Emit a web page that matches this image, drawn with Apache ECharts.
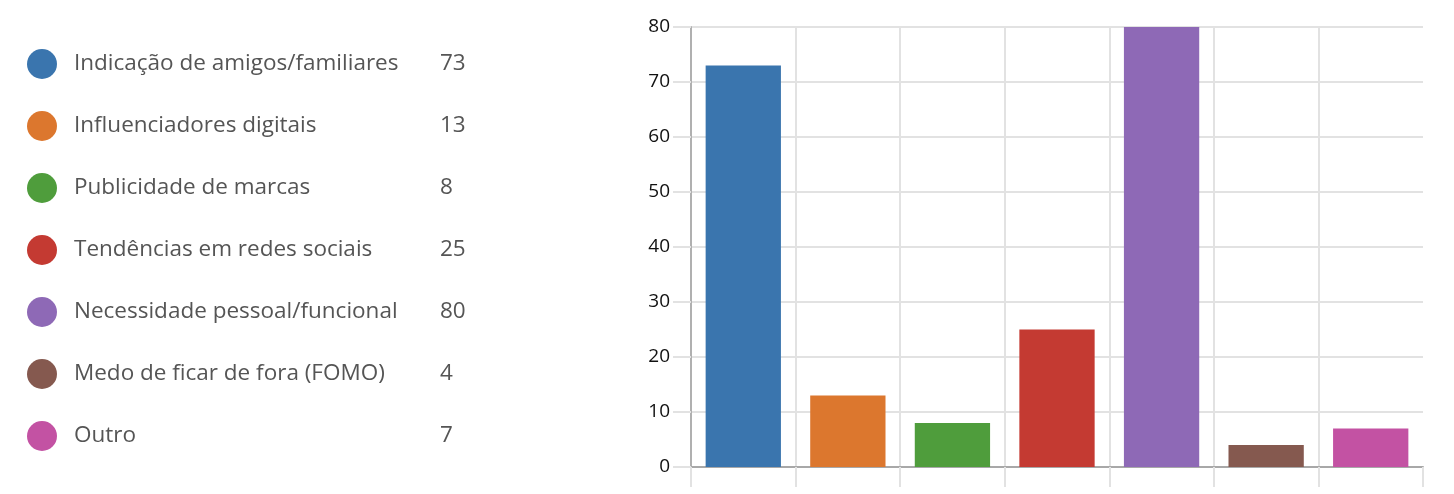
<!DOCTYPE html>
<html>
<head>
<meta charset="utf-8">
<script src="https://cdn.jsdelivr.net/npm/echarts@6/dist/echarts.min.js"></script>
<style>
  html, body { margin: 0; padding: 0; background: #fff; }
  #chart { width: 1454px; height: 494px; }
</style>
</head>
<body>
<div id="chart"></div>
<script>
const categories = [
  'Indicação de amigos/familiares',
  'Influenciadores digitais',
  'Publicidade de marcas',
  'Tendências em redes sociais',
  'Necessidade pessoal/funcional',
  'Medo de ficar de fora (FOMO)',
  'Outro'
]
const values = [73, 13, 8, 25, 80, 4, 7]
const colors = ['#3a75ae', '#dc772e', '#4f9d3c', '#c43a32', '#8e69b6', '#85594f', '#c352a3']
const yTicks = [0, 80, 10] // min, max, interval

const chart = echarts.init(document.getElementById('chart'))

// one series per category so the legend lists every bar
const series = categories.map((name, i) => ({
  name,
  type: 'bar',
  stack: 'all',
  barWidth: '72%',
  itemStyle: { color: colors[i] },
  data: values.map((v, j) => (j === i ? v : '-'))
}))

chart.setOption({
  animation: false,
  color: colors,
  legend: {
    orient: 'vertical',
    left: 22,
    top: 44,
    icon: 'circle',
    itemWidth: 30,
    itemHeight: 30,
    itemGap: 32,
    selectedMode: false,
    formatter: name => `{n|${name}}{v|${values[categories.indexOf(name)]}}`,
    textStyle: {
      rich: {
        n: { width: 366, fontSize: 22.5, color: '#555', fontFamily: 'Open Sans', padding: [0, 0, 0, 12] },
        v: { fontSize: 22.5, color: '#555', fontFamily: 'Open Sans' }
      }
    }
  },
  grid: { left: 691, right: 31, top: 27, bottom: 27 },
  xAxis: {
    type: 'category',
    data: categories,
    axisLabel: { show: false, interval: 0 },
    axisLine: { lineStyle: { color: '#a8a8a8', width: 2 } },
    axisTick: { show: true, interval: 0, length: 20, lineStyle: { color: '#e2e2e2', width: 2 } },
    splitLine: { show: true, interval: 0, showMaxLine: false, lineStyle: { color: '#e2e2e2', width: 2 } }
  },
  yAxis: {
    type: 'value',
    min: yTicks[0],
    max: yTicks[1],
    interval: yTicks[2],
    axisLine: { show: true, lineStyle: { color: '#b0b0b0', width: 2 } },
    axisTick: { show: true, length: 18, lineStyle: { color: '#e2e2e2', width: 2 } },
    axisLabel: { fontSize: 19, color: '#111', margin: 21, fontFamily: 'Open Sans' },
    splitLine: { lineStyle: { color: '#e2e2e2', width: 2 } }
  },
  series
})
</script>
</body>
</html>
